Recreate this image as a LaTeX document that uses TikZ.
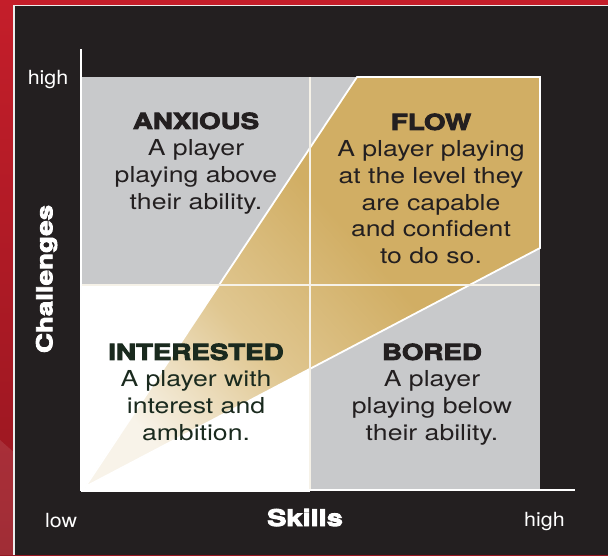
\documentclass[tikz,border=0pt]{standalone}
\usepackage{fontspec}
\setmainfont{TeX Gyre Heros}
\newfontfamily\bodyfont[FakeStretch=1.21]{TeX Gyre Heros}
\newfontfamily\tickfont[FakeStretch=1.1]{TeX Gyre Heros}
\newfontfamily\heavyfont[FakeStretch=1.26,FakeBold=4]{texgyreheros-bold.otf}

\definecolor{panel}{RGB}{35,31,32}
\definecolor{quadgray}{RGB}{200,201,203}
\definecolor{gold}{RGB}{209,174,100}
\definecolor{goldmid}{RGB}{224,199,145}
\definecolor{cream}{RGB}{248,243,233}
\definecolor{ink}{RGB}{35,31,32}
\definecolor{greenink}{RGB}{26,42,30}
\definecolor{gridline}{RGB}{246,242,232}
\definecolor{redtop}{RGB}{196,30,42}
\definecolor{redlow}{RGB}{150,22,32}

\pgfdeclarehorizontalshading{conegold}{100bp}{%
  color(0bp)=(cream); color(24bp)=(cream); color(40bp)=(goldmid);
  color(57bp)=(gold); color(100bp)=(gold)}

\tikzset{
  quadtext/.style={align=center, inner sep=0pt, anchor=north,
    font=\bodyfont\fontsize{22}{26.7}\selectfont},
  ticklabel/.style={inner sep=0pt, text=white,
    font=\tickfont\fontsize{19.5}{22}\selectfont},
  axistitle/.style={inner sep=0pt, text=white,
    font=\heavyfont\fontsize{22}{26}\selectfont},
  axisline/.style={draw=white, line width=1.6pt},
  divider/.style={draw=gridline, line width=1.2pt},
}

\begin{document}
\begin{tikzpicture}[x=1pt, y=-1pt]
  \useasboundingbox (0,0) rectangle (608,555);

  % red frame and dark panel
  \shade[top color=redtop, bottom color=redlow] (0,0) rectangle (608,555);
  \fill[white, opacity=0.10] (0,440) -- (13.5,452) -- (13.5,555) -- (0,555) -- cycle;
  \fill[white!85!gray] (13.2,4.8) rectangle (608,555);
  \fill[panel] (14.6,6.2) rectangle (608,555);

  % quadrants
  \fill[quadgray] (82,77) rectangle (540,490);
  \fill[white] (80.5,285) rectangle (310,492);

  % flow channel
  \coordinate (origin) at (85,487);
  \coordinate (ftl) at (357,77);
  \coordinate (ftr) at (540,77);
  \coordinate (fbr) at (540,248);
  \shade[shading=conegold, shading angle=42]
    (origin) -- (ftl) -- (ftr) -- (fbr) -- cycle;
  \draw[white, line width=1.8pt, line join=miter]
    (origin) -- (ftl) -- (ftr) -- (fbr) -- cycle;

  % quadrant dividers
  \draw[divider] (310,77) -- (310,490);
  \draw[divider] (82,285) -- (540,285);

  % axes
  \coordinate (ytop) at (81,49);
  \coordinate (corner) at (81,490);
  \coordinate (xend) at (575,490);
  \draw[axisline] (ytop) -- (corner) -- (xend);

  % quadrant texts
  \node[quadtext, text=ink] (anxious) at (196,112.4)
    {{\heavyfont ANXIOUS}\\A player\\playing above\\their ability.};
  \node[quadtext, text=ink] (flow) at (431,113.4)
    {{\heavyfont FLOW}\\A player playing\\at the level they\\are capable\\and confident\\to do so.};
  \node[quadtext, text=greenink] (interested) at (196,343.4)
    {{\heavyfont INTERESTED}\\A player with\\interest and\\ambition.};
  \node[quadtext, text=ink] (bored) at (432,343.4)
    {{\heavyfont BORED}\\A player\\playing below\\their ability.};

  % axis labels
  \node[ticklabel, anchor=base east] (yhigh) at (68.5,84) {high};
  \node[ticklabel, anchor=base west] (xlow) at (45,527) {low};
  \node[ticklabel, anchor=base west] (xhigh) at (524,526) {high};
  \node[axistitle, anchor=base, font=\heavyfont\fontsize{23}{26}\selectfont] (skills) at (305,526) {Skills};
  \node[axistitle, anchor=base, rotate=90] (challenges) at (52.3,279) {Challenges};
\end{tikzpicture}
\end{document}
